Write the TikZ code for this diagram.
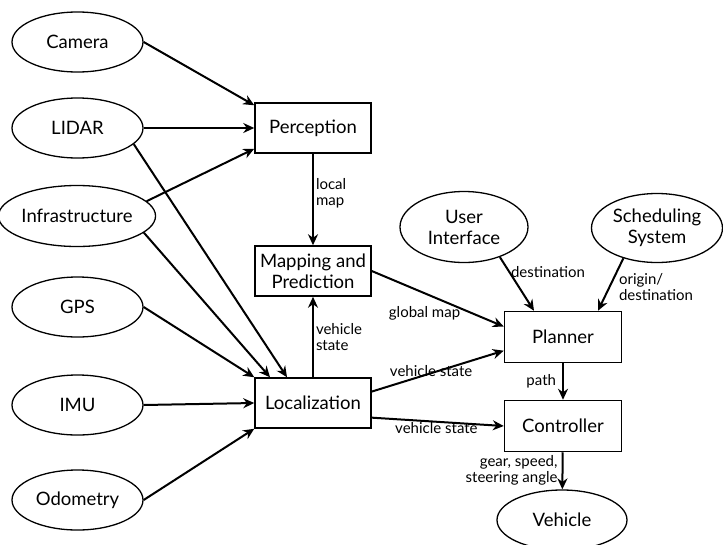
\documentclass[tikz,border=0pt]{standalone}
\usepackage{fontspec}
\setmainfont{Lato}
\usetikzlibrary{arrows.meta, shapes.geometric}

\begin{document}
\begin{tikzpicture}[x = 1pt, y = -1pt,
		sensor/.style = {draw, ellipse, line width=1.3pt, minimum width=131pt, minimum height=60pt,
			inner sep=0pt, align=center, font=\fontsize{18.5}{21}\selectfont},
		module/.style = {draw, rectangle, line width=1.5pt, minimum width=116pt, minimum height=50pt,
			inner sep=0pt, align=center, font=\fontsize{18.5}{21}\selectfont},
		lbl/.style = {align=left, inner sep=2pt, font=\fontsize{15}{16}\selectfont},
		every edge/.append style = {line width=2pt, -{Stealth[length=11pt, width=10pt]}}]
			\useasboundingbox (0,0) rectangle (723,544);

			% inputs
			\node[sensor] (cam) at (77.5,42) {Camera};
			\node[sensor] (lidar) at (77.5,128) {LIDAR};
			\node[sensor, minimum width=141pt, minimum height=61pt] (infra) at (77,216) {Infrastructure};
			\node[sensor] (gps) at (77.5,307) {GPS};
			\node[sensor] (imu) at (77.5,405) {IMU};
			\node[sensor] (odo) at (77.5,500) {Odometry};

			% modules
			\node[module] (perc) at (313,128) {Perception};
			\node[module] (map) at (313,271) {Mapping and\\Prediction};
			\node[module] (loc) at (313,403) {Localization};
			\node[module, minimum width=117pt, minimum height=51pt] (plan) at (563,337) {Planner};
			\node[module, minimum width=117pt, minimum height=51pt] (ctrl) at (563,426) {Controller};

			\node[sensor, minimum width=128pt, minimum height=71pt] (ui) at (464,227) {User\\Interface};
			\node[sensor, minimum height=69pt] (sched) at (657,228) {Scheduling\\System};
			\node[sensor, minimum width=130pt] (veh) at (562,520) {Vehicle};

			\path (cam.east) edge ([yshift=-3pt]perc.north west)
				(lidar.east) edge (perc.west)
				(infra.12) edge ([yshift=5pt]perc.south west)
				(lidar.-16) edge ([xshift=-26pt]loc.north)
				(infra.-14) edge ([xshift=-43pt]loc.north)
				(gps.east) edge (loc.north west)
				(imu.east) edge (loc.west)
				(odo.east) edge (loc.south west);

			\path (perc) edge node[lbl, right, pos=0.43] {local\\map} (map)
				(loc) edge node[lbl, right] {vehicle\\state} (map)
				(map.east) edge node[lbl, pos=0.4, yshift=-20pt] {global map} (plan.170)
				(loc.11) edge node[lbl, pos=0.45, yshift=2pt] {vehicle state} (plan.193)
				(loc.-14) edge node[lbl, pos=0.49, yshift=-6pt] {vehicle state} (ctrl.west)
				(ui.-40) edge node[lbl, pos=0.27, anchor=west, inner sep=1pt] {destination} ([xshift=-29pt]plan.north)
				(sched.222) edge node[lbl, pos=0.25, anchor=north west, inner sep=1pt] {origin/\\destination} ([xshift=35pt]plan.north)
				(plan) edge node[lbl, left, xshift=-4pt] {path} (ctrl)
				(ctrl) edge node[lbl, left, align=right, xshift=-2pt] {gear, speed,\\steering angle} (veh);
		\end{tikzpicture}
\end{document}
